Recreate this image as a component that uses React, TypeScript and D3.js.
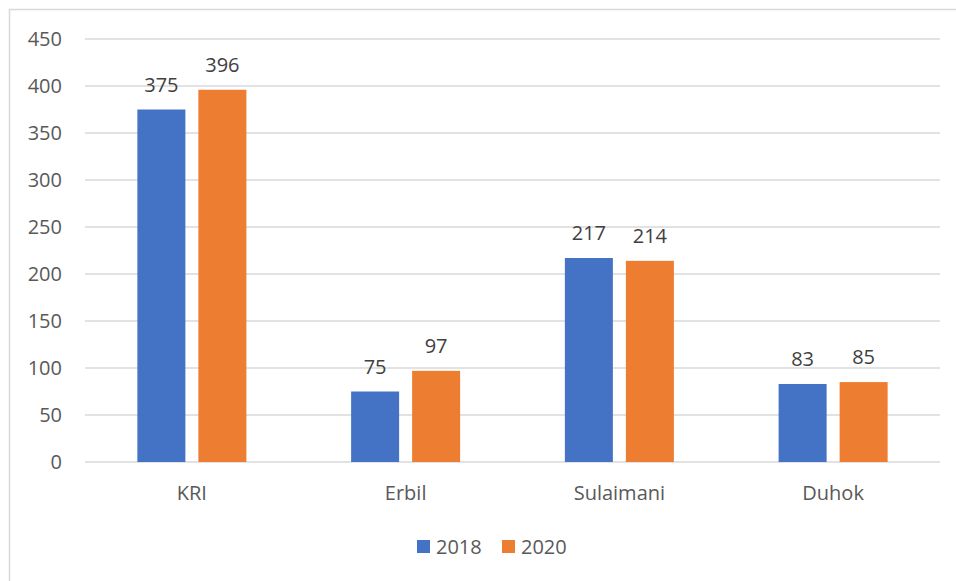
import React, { useEffect, useRef } from "react";
import * as d3 from "d3";

const categories = ["KRI", "Erbil", "Sulaimani", "Duhok"];
const seriesNames = ["2018", "2020"];
const values2018 = [375, 75, 217, 83];
const values2020 = [396, 97, 214, 85];
const yTicks = [0, 50, 100, 150, 200, 250, 300, 350, 400, 450];
const colors = ["#4472C4", "#ED7D31"];

const width = 956;
const height = 581;
const margin = { top: 39, right: 16, bottom: 119, left: 85 };

export default function App() {
  const ref = useRef<SVGSVGElement>(null);

  useEffect(() => {
    const svg = d3.select(ref.current);
    svg.selectAll("*").remove();
    const font = "'Open Sans', 'Noto Sans', sans-serif";
    const textColor = "#595959";
    const fs = 20;

    // outer chart border (only left/top visible in the crop)
    svg.append("rect").attr("x", 9.5).attr("y", 9.5).attr("width", width).attr("height", height)
      .attr("fill", "none").attr("stroke", "#d9d9d9").attr("stroke-width", 1.5);

    const innerW = width - margin.left - margin.right;
    const innerH = height - margin.top - margin.bottom;
    const g = svg.append("g").attr("transform", `translate(${margin.left},${margin.top})`);

    const y = d3.scaleLinear().domain([0, 450]).range([innerH, 0]);
    const x0 = d3.scaleBand().domain(categories).range([0, innerW]).paddingInner(0.49).paddingOuter(0.245);
    const x1 = d3.scaleBand().domain(seriesNames).range([0, x0.bandwidth()]).paddingInner(0.213);

    g.selectAll(".grid").data(yTicks).join("line")
      .attr("x1", 0).attr("x2", innerW)
      .attr("y1", (d) => y(d)).attr("y2", (d) => y(d))
      .attr("stroke", "#d9d9d9").attr("stroke-width", 1.3);

    g.selectAll(".ytick").data(yTicks).join("text")
      .attr("x", -23).attr("y", (d) => y(d)).attr("dy", "0.36em")
      .attr("text-anchor", "end").attr("font-family", font).attr("font-size", fs)
      .attr("fill", textColor).text((d) => d);

    const rows = categories.map((c, i) => ({ c, vals: [values2018[i], values2020[i]] }));
    const grp = g.selectAll(".grp").data(rows).join("g")
      .attr("transform", (d) => `translate(${x0(d.c)},0)`);

    const cells = (d: { vals: number[] }) => d.vals.map((v, j) => ({ s: seriesNames[j], v, j }));
    grp.selectAll("rect").data(cells).join("rect")
      .attr("x", (d) => x1(d.s)!).attr("width", x1.bandwidth())
      .attr("y", (d) => y(d.v)).attr("height", (d) => innerH - y(d.v))
      .attr("fill", (d) => colors[d.j]);

    grp.selectAll("text").data(cells).join("text")
      .attr("x", (d) => x1(d.s)! + x1.bandwidth() / 2).attr("y", (d) => y(d.v) - 18)
      .attr("text-anchor", "middle").attr("font-family", font).attr("font-size", fs)
      .attr("fill", "#404040").text((d) => d.v);

    g.selectAll(".xlab").data(categories).join("text")
      .attr("x", (d) => x0(d)! + x0.bandwidth() / 2).attr("y", innerH + 38)
      .attr("text-anchor", "middle").attr("font-family", font).attr("font-size", fs)
      .attr("fill", textColor).text((d) => d);

    // legend
    const legend = svg.append("g");
    const legendX = [417, 502];
    seriesNames.forEach((s, i) => {
      legend.append("rect").attr("x", legendX[i]).attr("y", 540).attr("width", 13).attr("height", 13).attr("fill", colors[i]);
      legend.append("text").attr("x", legendX[i] + 19).attr("y", 547).attr("dy", "0.36em")
        .attr("font-family", font).attr("font-size", fs).attr("fill", textColor).text(s);
    });
  }, []);

  return (
    <div style={{ position: "fixed", left: 0, top: 0 }}>
      <svg ref={ref} width={width} height={height} style={{ display: "block", background: "#fff" }} />
    </div>
  );
}
